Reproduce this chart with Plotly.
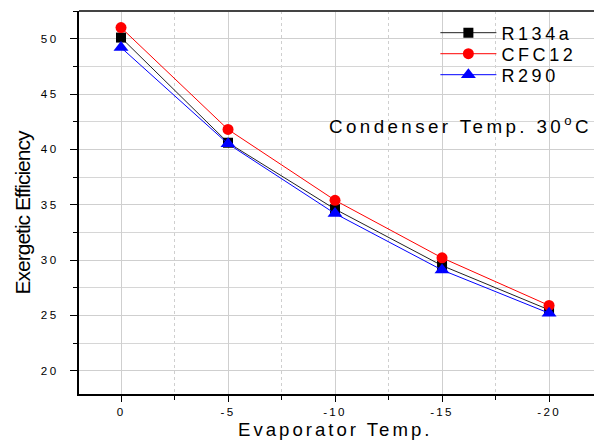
import plotly.graph_objects as go

evap_temp = [0, -5, -10, -15, -20]
r134a = [50.1, 40.6, 34.6, 29.5, 25.5]
cfc12 = [51.0, 41.8, 35.4, 30.2, 25.9]
r290 = [49.2, 40.5, 34.2, 29.1, 25.2]
x_ticks = [0, -5, -10, -15, -20]
y_ticks = [20, 25, 30, 35, 40, 45, 50]
series_names = ["R134a", "CFC12", "R290"]
x_title = "Evaporator Temp."
y_title = "Exergetic Efficiency"
note = "Condenser Temp. 30<sup>o</sup>C"


def spaced(text, px):
    return f'<span style="letter-spacing:{px}px">{text}</span>'


font = "Liberation Sans, Arial, sans-serif"
fig = go.Figure()
styles = [("black", "square", 10), ("red", "circle", 11), ("blue", "triangle-up", 13)]
legend_ids = ["legend", "legend2", "legend3"]
for name, vals, (color, sym, sz), lid in zip(series_names, [r134a, cfc12, r290], styles, legend_ids):
    fig.add_trace(go.Scatter(
        x=evap_temp, y=vals, name=spaced(name, 3.6), mode="lines+markers",
        line=dict(color=color if color != "black" else "#222222", width=1),
        marker=dict(symbol=sym, size=sz, color=color),
        legend=lid,
    ))

leg_common = dict(x=0.692, xanchor="left", yanchor="middle",
                  font=dict(size=18, family=font), bgcolor="rgba(0,0,0,0)",
                  itemwidth=56)
fig.update_layout(
    width=594, height=445,
    margin=dict(l=79, r=0, t=11, b=51),
    paper_bgcolor="white", plot_bgcolor="white",
    font=dict(family=font, color="black"),
    showlegend=True,
    legend=dict(y=0.9426, **leg_common),
    legend2=dict(y=0.8877, **leg_common),
    legend3=dict(y=0.8329, **leg_common),
    xaxis=dict(
        range=[1.963, -22.1], tickvals=x_ticks,
        ticktext=[spaced(str(v), 2.3) for v in x_ticks],
        showline=True, linecolor="black", linewidth=2, mirror=False,
        ticks="outside", ticklen=6, tickcolor="black",
        showgrid=True, gridcolor="#cfcfcf", gridwidth=1,
        minor=dict(dtick=2.5, tick0=0, ticks="outside", ticklen=4, tickcolor="black",
                   showgrid=True, gridcolor="#cfcfcf", griddash="dot"),
        tickfont=dict(size=11.6), zeroline=False, automargin=False,
    ),
    yaxis=dict(
        range=[17.9, 52.5], tickvals=y_ticks,
        ticktext=[spaced(str(v), 2.5) for v in y_ticks],
        showline=True, linecolor="black", linewidth=2,
        ticks="outside", ticklen=7, tickcolor="black", ticklabelstandoff=9,
        showgrid=True, gridcolor="#cfcfcf", gridwidth=1,
        minor=dict(dtick=2.5, tick0=0, ticks="outside", ticklen=4, tickcolor="black",
                   showgrid=True, gridcolor="#d6d6d6"),
        tickfont=dict(size=11.6), zeroline=False, automargin=False,
    ),
    shapes=[dict(type="line", xref="paper", yref="paper", x0=0, x1=1, y0=1, y1=1,
                 line=dict(color="#444444", width=2))],
    annotations=[
        dict(text=spaced(note, 3.4), xref="paper", yref="paper",
             x=0.9995, y=0.7035, xanchor="right", yanchor="middle", showarrow=False,
             font=dict(size=18.8, family=font)),
        dict(text=spaced(x_title, 3), xref="paper", yref="paper",
             x=0.497, y=-0.0914, xanchor="center", yanchor="middle", showarrow=False,
             font=dict(size=18.6, family=font)),
        dict(text=spaced(y_title, -1), xref="paper", yref="paper", textangle=-90,
             x=-0.1107, y=0.474, xanchor="center", yanchor="middle", showarrow=False,
             font=dict(size=21, family=font)),
    ],
)

fig.write_html("out.html", config={"displayModeBar": False},
               post_script="document.body.style.margin='0';")
